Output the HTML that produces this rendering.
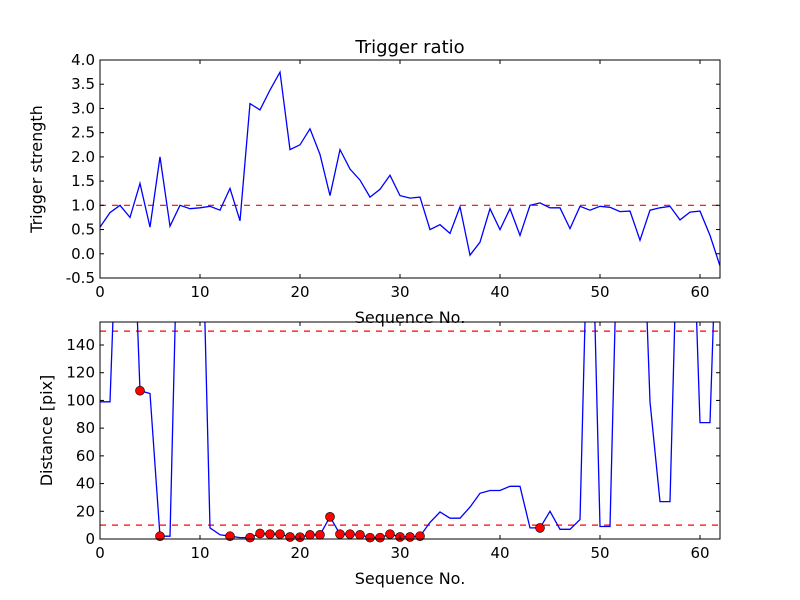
<!DOCTYPE html>
<html><head><meta charset="utf-8"><style>
html,body{margin:0;padding:0;background:#fff;}
svg{display:block;font-family:"DejaVu Sans","Liberation Sans",sans-serif;}
</style></head><body>
<svg id="chart" width="800" height="600" viewBox="0 0 800 600">
<rect width="800" height="600" fill="#fff"/>
</svg>
<script>
const ratioValues=[0.55,0.85,1.0,0.75,1.45,0.55,2.0,0.57,1.0,0.93,0.95,0.98,0.9,1.35,0.68,3.1,2.97,3.38,3.75,2.15,2.25,2.58,2.05,1.2,2.15,1.75,1.52,1.17,1.33,1.62,1.2,1.15,1.17,0.5,0.6,0.42,0.97,-0.03,0.24,0.93,0.5,0.93,0.38,1.0,1.05,0.95,0.95,0.52,0.98,0.9,0.98,0.96,0.87,0.88,0.28,0.9,0.95,0.98,0.7,0.86,0.88,0.38,-0.25];
const distValues=[99,99,300,300,107,105,2,2,300,300,300,8,3,2,1,1,4,3.5,3.5,1.5,1.3,3,3,16,3.5,3.5,3,1,1,3.5,1.5,1.5,2,12,19.5,15,15,23,33,35,35,38,38,8,8,20,7,7,14,300,9,9,300,300,300,99,27,27,300,300,84,84,300];
const markerIdx=[4,6,13,15,16,17,18,19,20,21,22,23,24,25,26,27,28,29,30,31,32,44];
const xTicks=[0,10,20,30,40,50,60];
const topYTicks=[-0.5,0.0,0.5,1.0,1.5,2.0,2.5,3.0,3.5,4.0];
const botYTicks=[0,20,40,60,80,100,120,140];
const topThreshold=[1.0];
const botThresholds=[10,150];

const NS="http://www.w3.org/2000/svg";
const svg=document.getElementById('chart');
function mk(tag,attrs,parent){const e=document.createElementNS(NS,tag);for(const k in attrs)e.setAttribute(k,attrs[k]);(parent||svg).appendChild(e);return e;}

function panel(cfg){
  const {L,R,T,B,xmin,xmax,ymin,ymax}=cfg;
  const sx=v=>L+(v-xmin)/(xmax-xmin)*(R-L);
  const sy=v=>B-(v-ymin)/(ymax-ymin)*(B-T);
  const g=mk('g',{});
  
  
  const defs=mk('clipPath',{id:cfg.name+'-clip'},g);
  mk('rect',{x:L,y:T,width:R-L,height:B-T},defs);
  // thresholds
  cfg.thr.forEach(t=>{
    const l=mk('line',{x1:L,x2:R,y1:sy(t),y2:sy(t),stroke:'#ff0000','stroke-width':1.2,'stroke-dasharray':'6,6','clip-path':'url(#'+cfg.name+'-clip)'},g);
    
    
  });
  const pts=cfg.data.map((v,i)=>sx(i).toFixed(1)+','+sy(v).toFixed(1)).join(' ');
  const pl=mk('polyline',{points:pts,fill:'none',stroke:'#0000ff','stroke-width':1.3,'clip-path':'url(#'+cfg.name+'-clip)'},g);
  
  
  (cfg.markers||[]).forEach(i=>{
    const c=mk('circle',{cx:sx(i),cy:sy(cfg.data[i]),r:4.5,fill:'#ff0000',stroke:'#000','stroke-width':0.6},g);
    
    
  });
  const fr=mk('rect',{x:L,y:T,width:R-L,height:B-T,fill:'none',stroke:'#000','stroke-width':1},g);
  
  
  xTicks.forEach(t=>{
    const x=sx(t);
    mk('line',{x1:x,x2:x,y1:B,y2:B-4,stroke:'#000'},g);
    mk('line',{x1:x,x2:x,y1:T,y2:T+4,stroke:'#000'},g);
    const tx=mk('text',{x:x,y:B+19,'text-anchor':'middle','font-size':15},g);
    tx.textContent=t;
    
    
  });
  cfg.yt.forEach(t=>{
    const y=sy(t);
    mk('line',{x1:L,x2:L+4,y1:y,y2:y,stroke:'#000'},g);
    mk('line',{x1:R,x2:R-4,y1:y,y2:y,stroke:'#000'},g);
    const tx=mk('text',{x:L-5,y:y+5,'text-anchor':'end','font-size':15},g);
    tx.textContent=cfg.fmt(t);
    
    
  });
  const xl=mk('text',{x:(L+R)/2,y:B+45,'text-anchor':'middle','font-size':16},g);
  xl.textContent='Sequence No.';
  
  
  const yl=mk('text',{x:0,y:0,'text-anchor':'middle','font-size':16,transform:'translate('+cfg.ylx+','+((T+B)/2)+') rotate(-90)'},g);
  yl.textContent=cfg.ylabel;
  
  
}
panel({name:'top-panel',L:100,R:720,T:60,B:278,xmin:0,xmax:62,ymin:-0.5,ymax:4.0,data:ratioValues,thr:topThreshold,yt:topYTicks,fmt:v=>v.toFixed(1),ylabel:'Trigger strength',ylx:42});
panel({name:'bottom-panel',L:100,R:720,T:322,B:539,xmin:0,xmax:62,ymin:0,ymax:156.6,data:distValues,thr:botThresholds,yt:botYTicks,fmt:v=>String(v),markers:markerIdx,ylabel:'Distance [pix]',ylx:52});
const title=mk('text',{x:410,y:53,'text-anchor':'middle','font-size':18});
title.textContent='Trigger ratio';


// bottom panel drawn over top x label: redraw white background of bottom axes behind? keep order: re-append bottom panel frame area
</script>
</body></html>
